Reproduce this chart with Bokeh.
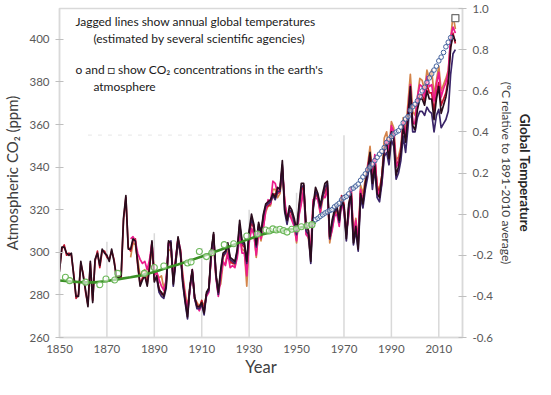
from bokeh.plotting import figure
from bokeh.models import Range1d, LinearAxis, FixedTicker, Label, NumeralTickFormatter
from bokeh.embed import file_html
from bokeh.resources import INLINE

# ---------------- data ----------------
year_ticks = [1850, 1870, 1890, 1910, 1930, 1950, 1970, 1990, 2010]
co2_ticks = [260, 280, 300, 320, 340, 360, 380, 400]
temp_ticks = [-0.6, -0.4, -0.2, 0.0, 0.2, 0.4, 0.6, 0.8, 1.0]

# global temperature, deg C relative to 1891-2010 average
years_black = list(range(1850, 2018))
temp_black = [
    -0.28, -0.16, -0.16, -0.19, -0.20, -0.19, -0.30, -0.40, -0.40, -0.23,
    -0.30, -0.37, -0.45, -0.23, -0.43, -0.22, -0.19, -0.25, -0.17, -0.19,
    -0.20, -0.23, -0.17, -0.23, -0.30, -0.31, -0.30, -0.02, 0.09, -0.17,
    -0.17, -0.12, -0.13, -0.24, -0.35, -0.32, -0.30, -0.35, -0.26, -0.13,
    -0.33, -0.30, -0.37, -0.38, -0.40, -0.35, -0.13, -0.14, -0.34, -0.23,
    -0.11, -0.18, -0.33, -0.42, -0.50, -0.35, -0.27, -0.40, -0.45, -0.45,
    -0.43, -0.48, -0.38, -0.36, -0.18, -0.09, -0.29, -0.38, -0.27, -0.19,
    -0.18, -0.14, -0.21, -0.22, -0.23, -0.17, -0.03, -0.13, -0.14, -0.23,
    -0.08, 0.00, -0.05, -0.15, -0.04, -0.09, 0.00, 0.05, 0.06, 0.07,
    0.10, 0.08, 0.13, 0.12, 0.26, 0.02, -0.03, 0.04, 0.02, -0.02,
    -0.08, 0.04, 0.15, 0.15, -0.06, -0.08, -0.23, 0.04, 0.13, 0.10,
    0.04, 0.10, 0.15, 0.16, -0.11, -0.03, 0.02, 0.04, -0.03, 0.07,
    0.04, -0.12, 0.05, 0.10, -0.14, -0.06, -0.17, 0.10, 0.05, 0.15,
    0.21, 0.30, 0.15, 0.24, 0.10, 0.08, 0.18, 0.32, 0.34, 0.27,
    0.40, 0.37, 0.19, 0.23, 0.30, 0.43, 0.35, 0.48, 0.62, 0.43,
    0.41, 0.51, 0.56, 0.56, 0.53, 0.60, 0.56, 0.56, 0.46, 0.56,
    0.62, 0.49, 0.53, 0.57, 0.64, 0.81, 0.87, 0.84,
]

years_red = list(range(1850, 2018))
temp_red = [
    -0.27, -0.17, -0.15, -0.20, -0.19, -0.20, -0.29, -0.41, -0.39, -0.24,
    -0.29, -0.38, -0.44, -0.24, -0.42, -0.23, -0.18, -0.26, -0.18, -0.18,
    -0.21, -0.22, -0.18, -0.22, -0.31, -0.30, -0.31, -0.03, 0.08, -0.16,
    -0.18, -0.13, -0.12, -0.25, -0.34, -0.31, -0.29, -0.34, -0.25, -0.14,
    -0.32, -0.31, -0.36, -0.39, -0.39, -0.34, -0.14, -0.15, -0.33, -0.22,
    -0.12, -0.19, -0.32, -0.41, -0.48, -0.36, -0.28, -0.41, -0.44, -0.46,
    -0.42, -0.47, -0.39, -0.37, -0.19, -0.10, -0.30, -0.39, -0.30, -0.21,
    -0.19, -0.15, -0.23, -0.24, -0.24, -0.19, -0.06, -0.15, -0.16, -0.27,
    -0.10, -0.04, -0.07, -0.17, -0.06, -0.10, -0.03, 0.03, 0.04, 0.05,
    0.09, 0.10, 0.10, 0.11, 0.23, 0.05, -0.02, 0.02, 0.00, -0.03,
    -0.10, 0.02, 0.11, 0.14, -0.05, -0.08, -0.20, 0.03, 0.10, 0.08,
    0.03, 0.09, 0.11, 0.14, -0.12, -0.05, 0.00, 0.03, -0.03, 0.09,
    0.05, -0.10, 0.03, 0.12, -0.12, -0.05, -0.15, 0.11, 0.07, 0.14,
    0.22, 0.29, 0.18, 0.27, 0.13, 0.11, 0.19, 0.31, 0.36, 0.29,
    0.41, 0.38, 0.23, 0.26, 0.31, 0.43, 0.37, 0.50, 0.60, 0.44,
    0.44, 0.53, 0.58, 0.58, 0.55, 0.63, 0.59, 0.59, 0.50, 0.59,
    0.64, 0.53, 0.56, 0.59, 0.66, 0.82, 0.88, 0.83,
]

years_magenta = list(range(1880, 2018))
temp_magenta = [
    -0.12, -0.11, -0.13, -0.19, -0.22, -0.24, -0.23, -0.27, -0.22, -0.14,
    -0.30, -0.28, -0.32, -0.35, -0.37, -0.32, -0.15, -0.15, -0.30, -0.22,
    -0.12, -0.17, -0.31, -0.40, -0.47, -0.37, -0.27, -0.41, -0.45, -0.47,
    -0.44, -0.46, -0.40, -0.38, -0.20, -0.13, -0.31, -0.40, -0.31, -0.23,
    -0.25, -0.19, -0.26, -0.25, -0.26, -0.21, -0.10, -0.19, -0.19, -0.30,
    -0.14, -0.07, -0.10, -0.20, -0.09, -0.12, -0.07, 0.02, 0.07, 0.05,
    0.16, 0.15, 0.10, 0.13, 0.22, 0.07, -0.03, 0.00, -0.03, -0.06,
    -0.13, -0.01, 0.05, 0.12, -0.10, -0.11, -0.17, 0.07, 0.08, 0.07,
    0.01, 0.09, 0.08, 0.12, -0.12, -0.08, -0.01, 0.00, -0.06, 0.06,
    0.01, -0.09, -0.01, 0.13, -0.10, -0.03, -0.13, 0.12, 0.06, 0.14,
    0.23, 0.29, 0.16, 0.29, 0.12, 0.09, 0.15, 0.30, 0.36, 0.30,
    0.43, 0.40, 0.23, 0.25, 0.30, 0.45, 0.38, 0.49, 0.63, 0.45,
    0.44, 0.57, 0.63, 0.62, 0.57, 0.67, 0.62, 0.63, 0.55, 0.63,
    0.69, 0.57, 0.61, 0.64, 0.69, 0.86, 0.91, 0.88,
]

years_navy = list(range(1891, 2018))
temp_navy = [
    -0.31, -0.38, -0.40, -0.41, -0.36, -0.14, -0.13, -0.35, -0.24,
    -0.13, -0.19, -0.34, -0.43, -0.51, -0.36, -0.28, -0.41, -0.46, -0.46,
    -0.44, -0.49, -0.39, -0.37, -0.19, -0.10, -0.30, -0.39, -0.28, -0.20,
    -0.19, -0.15, -0.22, -0.23, -0.24, -0.18, -0.05, -0.14, -0.15, -0.24,
    -0.09, -0.02, -0.06, -0.16, -0.05, -0.10, -0.01, 0.04, 0.05, 0.06,
    0.09, 0.07, 0.11, 0.11, 0.24, 0.01, -0.05, 0.02, 0.01, -0.04,
    -0.10, 0.02, 0.13, 0.14, -0.08, -0.10, -0.24, 0.02, 0.11, 0.09,
    0.03, 0.08, 0.13, 0.15, -0.12, -0.05, 0.01, 0.03, -0.04, 0.06,
    0.03, -0.13, 0.03, 0.09, -0.15, -0.08, -0.18, 0.08, 0.03, 0.12,
    0.18, 0.26, 0.12, 0.22, 0.08, 0.06, 0.15, 0.28, 0.30, 0.24,
    0.36, 0.33, 0.17, 0.20, 0.26, 0.38, 0.30, 0.42, 0.57, 0.40,
    0.40, 0.47, 0.50, 0.50, 0.48, 0.52, 0.50, 0.49, 0.40, 0.48,
    0.51, 0.42, 0.44, 0.46, 0.50, 0.68, 0.78, 0.80,
]

years_orange = list(range(1880, 2018))
temp_orange = [
    -0.21, -0.14, -0.15, -0.22, -0.30, -0.28, -0.27, -0.31, -0.25, -0.17,
    -0.27, -0.29, -0.31, -0.30, -0.36, -0.33, -0.17, -0.18, -0.31, -0.24,
    -0.15, -0.17, -0.29, -0.38, -0.45, -0.36, -0.28, -0.41, -0.43, -0.45,
    -0.42, -0.45, -0.39, -0.36, -0.21, -0.14, -0.31, -0.36, -0.34, -0.24,
    -0.24, -0.18, -0.24, -0.23, -0.25, -0.20, -0.09, -0.17, -0.18, -0.35,
    -0.12, -0.07, -0.09, -0.21, -0.08, -0.13, -0.06, 0.01, 0.04, 0.04,
    0.12, 0.12, 0.08, 0.10, 0.20, 0.06, -0.04, 0.00, -0.02, -0.05,
    -0.14, 0.00, 0.06, 0.12, -0.09, -0.12, -0.21, 0.06, 0.10, 0.08,
    0.00, 0.07, 0.09, 0.13, -0.14, -0.07, -0.01, 0.02, -0.04, 0.08,
    0.02, -0.10, 0.01, 0.13, -0.10, -0.02, -0.13, 0.14, 0.10, 0.17,
    0.24, 0.33, 0.19, 0.28, 0.14, 0.12, 0.19, 0.37, 0.40, 0.31,
    0.45, 0.42, 0.26, 0.28, 0.33, 0.47, 0.40, 0.54, 0.68, 0.50,
    0.48, 0.57, 0.66, 0.65, 0.60, 0.70, 0.66, 0.70, 0.58, 0.65,
    0.72, 0.60, 0.63, 0.66, 0.70, 0.85, 0.97, 0.90,
]

# CO2 (ppm): ice-core samples, smoothed ice-core curve, direct measurements
icecore_years = [1852.5, 1854.3, 1861, 1867, 1869.6, 1873.3, 1874.6, 1885.8, 1890,
                 1894, 1904, 1905.5, 1909, 1912, 1914.3, 1919.5, 1923.5, 1929,
                 1933.5, 1937, 1938.5, 1940, 1941.5, 1943, 1944.5, 1946, 1948,
                 1950, 1952, 1954.5, 1956.5]
icecore_ppm = [288.3, 286.7, 286.0, 284.8, 287.5, 287.0, 290.1, 290.1, 292.9,
               293.6, 295.0, 295.5, 300.4, 298.0, 299.8, 303.6, 304.0, 307.7,
               308.6, 310.5, 310.0, 311.0, 310.5, 310.8, 310.2, 309.5, 310.8,
               311.0, 312.0, 312.5, 313.0]

smooth_years = [1850, 1855, 1860, 1865, 1870, 1875, 1880, 1885, 1890, 1895, 1900,
                1905, 1910, 1915, 1920, 1925, 1930, 1935, 1940, 1945, 1950, 1955, 1958]
smooth_ppm = [286.8, 286.3, 285.9, 285.9, 286.5, 287.4, 288.3, 289.3, 290.8, 292.6,
              294.3, 296.1, 298.0, 300.0, 302.0, 304.2, 306.3, 308.2, 309.7, 310.4,
              311.2, 312.6, 314.0]

mlo_years = list(range(1958, 2016))
mlo_ppm = [315.3, 315.97, 316.91, 317.64, 318.45, 318.99, 319.62, 320.04, 321.37,
           322.18, 323.05, 324.62, 325.68, 326.32, 327.45, 329.68, 330.18, 331.11,
           332.04, 333.83, 335.40, 336.84, 338.75, 340.11, 341.45, 343.05, 344.65,
           346.12, 347.42, 349.19, 351.57, 353.12, 354.39, 355.61, 356.45, 357.10,
           358.83, 360.82, 362.61, 363.73, 366.70, 368.38, 369.55, 371.14, 373.28,
           375.80, 377.52, 379.80, 381.90, 383.79, 385.60, 387.43, 389.90, 391.65,
           393.85, 396.52, 398.65, 400.83]

recent_year = [2017]
recent_ppm = [410.0]

# ---------------- styling ----------------
FONT = "Lato"
GRID = "#d9d9d9"
TICKTXT = "#595959"
LABEL = "#404040"
grid_years = [1870, 1890, 1910, 1930, 1950, 1970, 1990, 2010]
grid_tops = [305, 309, 302, 320, 328, 355, 355, 355]

p = figure(width=535, height=379, output_backend="svg", toolbar_location=None,
           x_range=Range1d(1850, 2020), y_range=Range1d(260, 414.5),
           min_border_left=58, min_border_right=70, min_border_top=8,
           min_border_bottom=40, background_fill_color="white",
           border_fill_color="white")
p.extra_y_ranges = {"temp": Range1d(-0.6, 1.0)}
p.xgrid.visible = False
p.ygrid.visible = False
p.outline_line_color = GRID
p.outline_line_width = 1.5

# x axis
xa = p.xaxis[0]
xa.ticker = FixedTicker(ticks=year_ticks)
xa.major_tick_in = 0
xa.major_tick_out = 0
xa.minor_tick_line_color = None
xa.axis_line_color = GRID
xa.axis_line_width = 1.5
xa.major_label_text_font = FONT
xa.major_label_text_font_size = "11.5px"
xa.major_label_text_color = TICKTXT
xa.major_label_standoff = 7
xa.axis_label = "Year"
xa.axis_label_text_font = FONT
xa.axis_label_text_font_size = "16.5px"
xa.axis_label_text_font_style = "normal"
xa.axis_label_text_color = LABEL
xa.axis_label_standoff = 1

# left axis (CO2)
ya = p.yaxis[0]
ya.ticker = FixedTicker(ticks=co2_ticks)
ya.major_tick_in = 4
ya.major_tick_out = 4
ya.major_tick_line_color = "#bfbfbf"
ya.minor_tick_line_color = None
ya.axis_line_color = GRID
ya.axis_line_width = 1.5
ya.major_label_text_font = FONT
ya.major_label_text_font_size = "11.5px"
ya.major_label_text_color = TICKTXT
ya.major_label_standoff = 6
ya.axis_label = "Atmospheric CO\u2082 (ppm)"
ya.axis_label_text_font = FONT
ya.axis_label_text_font_size = "15px"
ya.axis_label_text_font_style = "normal"
ya.axis_label_text_color = LABEL
ya.axis_label_standoff = 5

# right axis (temperature) with its unit label
ra = LinearAxis(y_range_name="temp", ticker=FixedTicker(ticks=temp_ticks),
                formatter=NumeralTickFormatter(format="0.0"))
ra.major_tick_in = 4
ra.major_tick_out = 4
ra.major_tick_line_color = "#bfbfbf"
ra.minor_tick_line_color = None
ra.axis_line_color = GRID
ra.axis_line_width = 1.5
ra.major_label_text_font = FONT
ra.major_label_text_font_size = "11.5px"
ra.major_label_text_color = TICKTXT
ra.major_label_standoff = 6
ra.axis_label = "(\u00b0C relative to 1891-2010 average)"
ra.axis_label_text_font = FONT
ra.axis_label_text_font_size = "12px"
ra.axis_label_text_font_style = "normal"
ra.axis_label_text_color = LABEL
ra.axis_label_standoff = 3
p.add_layout(ra, "right")

# outer right title
ra2 = LinearAxis(y_range_name="temp", ticker=FixedTicker(ticks=[]))
ra2.axis_line_color = None
ra2.major_tick_line_color = None
ra2.minor_tick_line_color = None
ra2.major_tick_in = 0
ra2.major_tick_out = 0
ra2.major_label_standoff = 0
ra2.axis_label = "Global Temperature"
ra2.axis_label_text_font = FONT
ra2.axis_label_text_font_size = "13.5px"
ra2.axis_label_text_font_style = "bold"
ra2.axis_label_text_color = "#262626"
ra2.axis_label_standoff = 0
p.add_layout(ra2, "right")

# partial vertical grid lines and faint dashed remnant
p.segment(x0=grid_years, y0=[260] * len(grid_years), x1=grid_years, y1=grid_tops,
          line_color=GRID, line_width=1.5)
p.segment(x0=[1862], y0=[355], x1=[1966], y1=[355], line_color="#ececec",
          line_width=1.2, line_dash="4 6")

# temperature lines
for yrs, vals, col in [(years_orange, temp_orange, "#d4844a"),
                       (years_red, temp_red, "#c4122e"),
                       (years_magenta, temp_magenta, "#ec1a8c"),
                       (years_navy, temp_navy, "#3a2468"),
                       (years_black, temp_black, "#2a0c1c")]:
    p.line(yrs, vals, y_range_name="temp", line_color=col, line_width=1.7,
           line_join="round")

# CO2
p.line(smooth_years, smooth_ppm, line_color="#3a8f25", line_width=2.6)
p.scatter(icecore_years, icecore_ppm, marker="circle", size=6, line_color="#6cb85a",
          fill_color="white", fill_alpha=0.6, line_width=1.1)
p.scatter(mlo_years, mlo_ppm, marker="circle", size=4.6, line_color="#41609c",
          fill_color="white", fill_alpha=0.5, line_width=1.0)
p.scatter(recent_year, recent_ppm, marker="square", size=7, line_color="#707070",
          fill_color="white", line_width=1.3)

# annotation text inside the plot
notes = [
    (1856.7, 408.4, "Jagged lines show annual global temperatures"),
    (1864.3, 400.4, "(estimated by several scientific agencies)"),
    (1856.7, 385.9, "o and \u25a1 show CO\u2082 concentrations in the earth's"),
    (1864.3, 378.0, "atmosphere"),
]
for x, y, t in notes:
    p.add_layout(Label(x=x, y=y, text=t, text_font=FONT, text_font_size="12px",
                       text_color="#1a1a1a", text_baseline="middle",
                       text_align="left"))

open("out.html", "w").write(file_html(p, INLINE))
